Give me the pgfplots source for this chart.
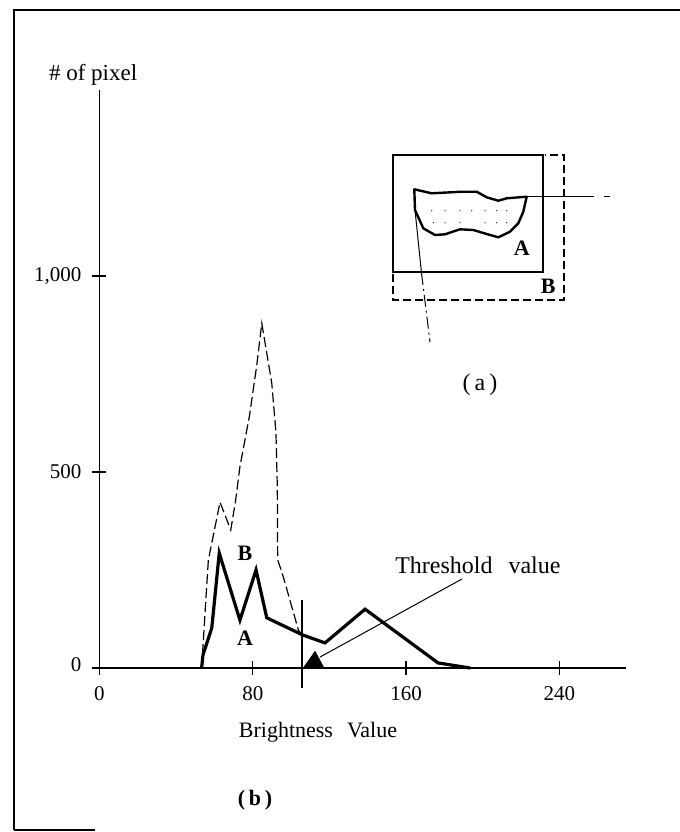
\documentclass[border=0pt]{standalone}
\usepackage{fontspec}
\setmainfont{Liberation Serif}
\usepackage{pgfplots}
\pgfplotsset{compat=1.18}
\begin{document}
\begin{tikzpicture}[x=0.5pt,y=-0.5pt]
\path[use as bounding box] (0,0) rectangle (680,832);
% outer frame (partial, as scanned)
\draw[line width=1.4pt] (14,830) -- (14,10) -- (680,10);
\draw[line width=1.4pt] (14,830) -- (95,830);
\begin{axis}[
  at={(49.75pt,-334pt)}, anchor=south west,
  scale only axis, width=263.45pt, height=289pt,
  xmin=0, xmax=275, ymin=0, ymax=1474,
  enlargelimits=false, clip=false,
  axis x line=bottom, axis y line=left,
  axis line style={-, line width=0.7pt},
  xtick={0,80,160,240},
  xticklabels={0,80,{\raisebox{-5pt}{160}},{\raisebox{-5pt}{240}}},
  ytick={0,500,1000},
  yticklabels={{\raisebox{3.5pt}{0}},500,{1,000}},
  major tick length=7pt,
  tick style={line width=0.7pt, black},
  tick label style={font=\fontsize{10.5}{12}\selectfont},
  xticklabel style={yshift=-2pt},
  yticklabel style={xshift=-2pt},
  /pgf/number format/assume math mode=true,
]
% Curve B (dashed)
\addplot[black, line width=0.6pt, dash pattern=on 5pt off 2pt] coordinates {
  (53.3,0) (56.8,275) (62.9,423) (68.5,352) (71.1,429) (73.3,514)
  (78.2,641) (82.0,769) (84.7,879) (89.9,727) (92.1,600) (92.8,463)
  (93.0,276) (95.9,233) (103.8,97) (105.7,84)
};
% Curve A (solid, thick)
\addplot[black, line width=1.6pt] coordinates {
  (53.3,0) (54.0,33) (58.6,102) (62.5,293) (73.3,122) (81.7,250)
  (87.3,128) (106.2,84) (117.7,64) (138.6,150) (176.7,13) (193.4,0)
};
% threshold line
\addplot[black, line width=0.8pt] coordinates {(105.7,-51) (105.7,173)};
% filled marker at threshold
\addplot[black, fill=black, line width=0.4pt] coordinates {(106.4,0) (112.5,42) (116.8,3)} \closedcycle;
% leader line to label
\addplot[black, line width=0.5pt] coordinates {(115.1,28) (189.2,227)};
\node[font=\fontsize{12}{14}\selectfont] at (axis cs:197.5,263) {Threshold\hspace{5pt} value};
\node[font=\fontsize{11}{13}\selectfont\bfseries] at (axis cs:75.9,293) {B};
\node[font=\fontsize{11}{13}\selectfont\bfseries] at (axis cs:76.0,77) {A};
\end{axis}
% axis titles
\node[anchor=west, font=\fontsize{11.5}{13}\selectfont] at (42,75) {\# of pixel};
\node[font=\fontsize{11}{13}\selectfont] at (318,732) {Brightness\hspace{7pt}Value};
\node[font=\fontsize{11}{13}\selectfont\bfseries] at (255,800) {(\,b\,)};
% inset (a)
\draw[line width=1.2pt] (393,155) rectangle (543,272);
\draw[line width=0.6pt, dash pattern=on 4pt off 2pt] (393,274) -- (393,300) -- (564,300) -- (564,155) -- (545,155);
\draw[line width=1.2pt, line join=round] (414.3,189.3) -- (431.7,193.3) -- (461.7,191.7) -- (476.7,191.7)
  -- (486.7,197.3) -- (498.3,200.7) -- (506.7,198.3) -- (526.7,196.7) -- (523.3,211.7)
  -- (518.3,223.3) -- (510,231.7) -- (498.3,237.3) -- (486.7,234) -- (473.3,230)
  -- (460,229.3) -- (445,234.3) -- (435,235) -- (423.3,228.3) -- (415,210) -- cycle;
\foreach \px in {431.7,445,460,471.7,485,496.7,506.7}{\fill (\px,210.7) circle (0.6);}
\foreach \px in {433.3,445,460,485,496.7,506.7}{\fill (\px,222.7) circle (0.6);}
\draw[line width=0.5pt] (526.7,196.7) -- (594,196.7);
\draw[line width=0.5pt] (604,196.7) -- (610,196.7);
\draw[line width=0.5pt] (415,210) -- (421.5,273);
\draw[line width=0.5pt, dash pattern=on 6pt off 2pt on 1pt off 2pt] (421.5,273) -- (430,342);
\node[font=\fontsize{11}{13}\selectfont\bfseries] at (521.7,248.3) {A};
\node[font=\fontsize{11}{13}\selectfont\bfseries] at (548.3,286.7) {B};
\node[font=\fontsize{12}{14}\selectfont] at (480,385) {(\,a\,)};
\end{tikzpicture}
\end{document}
